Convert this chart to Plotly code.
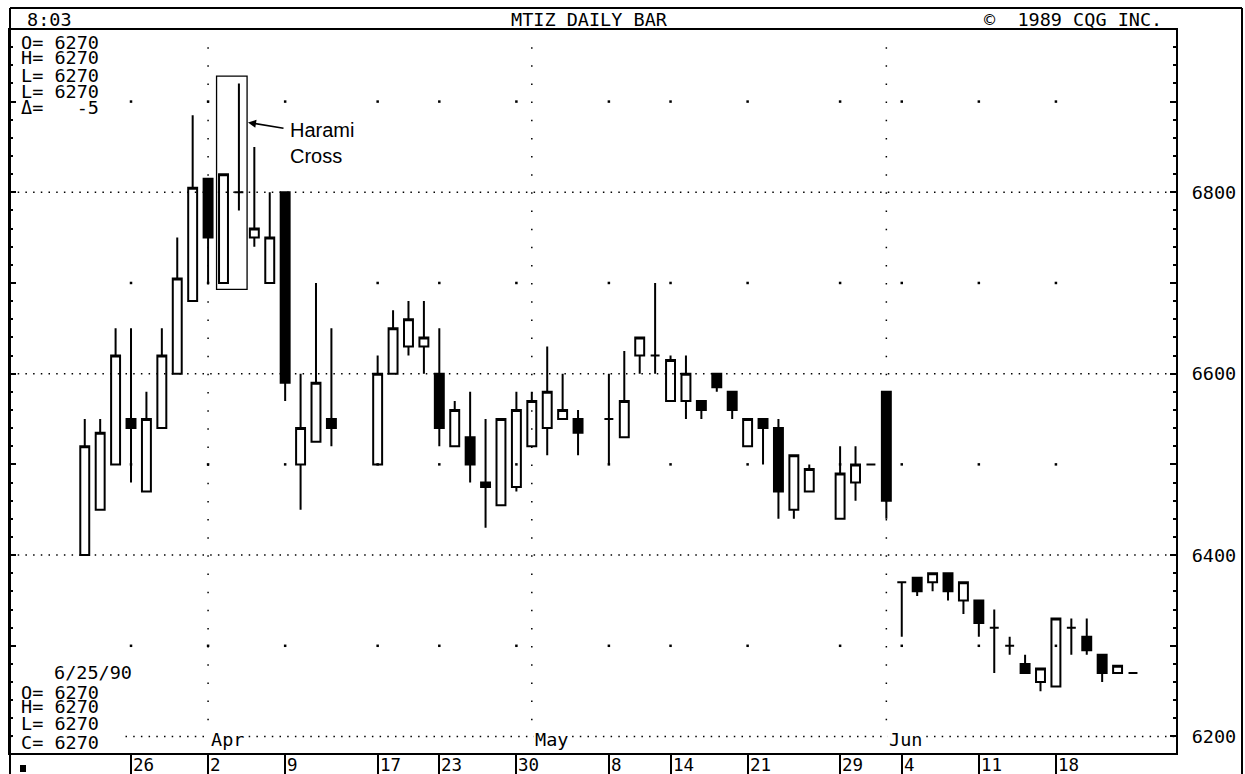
import numpy as np
import plotly.graph_objects as go

# daily bars, MTIZ, 21 Mar - 25 Jun 1990 (holidays left as gaps)
dates = [
    "1990-03-21", "1990-03-22", "1990-03-23", "1990-03-26", "1990-03-27", "1990-03-28", "1990-03-29",
    "1990-03-30", "1990-04-02", "1990-04-03", "1990-04-04", "1990-04-05", "1990-04-06", "1990-04-09",
    "1990-04-10", "1990-04-11", "1990-04-12", "1990-04-17", "1990-04-18", "1990-04-19", "1990-04-20",
    "1990-04-23", "1990-04-24", "1990-04-25", "1990-04-26", "1990-04-27", "1990-04-30", "1990-05-01",
    "1990-05-02", "1990-05-03", "1990-05-04", "1990-05-08", "1990-05-09", "1990-05-10", "1990-05-11",
    "1990-05-14", "1990-05-15", "1990-05-16", "1990-05-17", "1990-05-18", "1990-05-21", "1990-05-22",
    "1990-05-23", "1990-05-24", "1990-05-25", "1990-05-29", "1990-05-30", "1990-05-31", "1990-06-01",
    "1990-06-04", "1990-06-05", "1990-06-06", "1990-06-07", "1990-06-08", "1990-06-11", "1990-06-12",
    "1990-06-13", "1990-06-14", "1990-06-15", "1990-06-18", "1990-06-19", "1990-06-20", "1990-06-21",
    "1990-06-22", "1990-06-25",
]
opens = [
    6400, 6450, 6500, 6550, 6470, 6540, 6600, 6680, 6815, 6700, 6800, 6750, 6700, 6800,
    6500, 6525, 6550, 6500, 6600, 6630, 6630, 6600, 6520, 6530, 6480, 6455, 6475, 6520,
    6540, 6550, 6550, 6550, 6530, 6620, 6620, 6570, 6570, 6570, 6600, 6580, 6520, 6550,
    6540, 6450, 6470, 6440, 6480, 6500, 6580, 6370, 6375, 6370, 6380, 6350, 6350, 6320,
    6300, 6280, 6260, 6255, 6320, 6310, 6290, 6270, 6270,
]
highs = [
    6550, 6550, 6650, 6650, 6580, 6650, 6750, 6885, 6815, 6820, 6920, 6850, 6800, 6800,
    6600, 6700, 6650, 6620, 6670, 6680, 6680, 6650, 6570, 6580, 6550, 6550, 6580, 6580,
    6630, 6600, 6560, 6600, 6625, 6640, 6700, 6620, 6620, 6570, 6600, 6580, 6550, 6550,
    6550, 6510, 6500, 6520, 6520, 6500, 6580, 6370, 6375, 6380, 6380, 6370, 6350, 6340,
    6310, 6290, 6275, 6330, 6330, 6330, 6290, 6278, 6270,
]
lows = [
    6400, 6450, 6500, 6480, 6470, 6540, 6600, 6680, 6700, 6700, 6780, 6740, 6700, 6570,
    6450, 6525, 6520, 6500, 6600, 6620, 6600, 6520, 6520, 6480, 6430, 6455, 6470, 6520,
    6510, 6550, 6510, 6500, 6530, 6600, 6600, 6570, 6550, 6550, 6580, 6550, 6520, 6500,
    6440, 6440, 6470, 6440, 6460, 6500, 6440, 6310, 6355, 6360, 6350, 6335, 6310, 6270,
    6290, 6270, 6250, 6255, 6290, 6290, 6260, 6270, 6270,
]
closes = [
    6520, 6535, 6620, 6540, 6550, 6620, 6705, 6805, 6750, 6820, 6800, 6760, 6750, 6590,
    6540, 6590, 6540, 6600, 6650, 6660, 6640, 6540, 6560, 6500, 6475, 6550, 6560, 6570,
    6580, 6560, 6535, 6550, 6570, 6640, 6620, 6615, 6600, 6560, 6585, 6560, 6550, 6540,
    6470, 6510, 6495, 6490, 6500, 6500, 6460, 6370, 6360, 6380, 6360, 6370, 6325, 6320,
    6300, 6270, 6275, 6330, 6320, 6295, 6270, 6278, 6270,
]

week_starts = ["1990-03-26", "1990-04-02", "1990-04-09", "1990-04-17", "1990-04-23", "1990-04-30", "1990-05-08",
               "1990-05-14", "1990-05-21", "1990-05-29", "1990-06-04", "1990-06-11", "1990-06-18"]
week_labels = ["26", "2", "9", "17", "23", "30", "8", "14", "21", "29", "4", "11", "18"]
month_starts = ["1990-04-02", "1990-05-01", "1990-06-01"]
month_labels = ["Apr", "May", "Jun"]
price_labels = [6200, 6400, 6600, 6800]
half_levels = [6300, 6500, 6700, 6900]

MONO = "DejaVu Sans Mono"
START = np.datetime64("1990-03-21")


def slot(d):
    # weekday slot, so exchange holidays show as empty days
    return int(np.busday_count(START, np.datetime64(d)))


def px(x):
    return (x - 10) / 1166


def py(y):
    return (753 - y) / 723


xs = [slot(d) for d in dates]

fig = go.Figure()
fig.add_trace(
    go.Candlestick(
        x=xs, open=opens, high=highs, low=lows, close=closes,
        increasing=dict(line=dict(color="black", width=2), fillcolor="white"),
        decreasing=dict(line=dict(color="black", width=2), fillcolor="black"),
        whiskerwidth=0, showlegend=False,
    )
)
fig.add_trace(
    go.Scatter(
        x=[slot(w) for w in week_starts for _ in half_levels],
        y=[lv for _ in week_starts for lv in half_levels],
        mode="markers", marker=dict(symbol="square", size=2.5, color="black", line_width=0),
        showlegend=False, hoverinfo="skip",
    )
)

shapes = []
for p in price_labels:
    shapes.append(dict(type="line", xref="paper", yref="y", x0=0, x1=1, y0=p, y1=p,
                       line=dict(color="black", width=1.5, dash="1.5px,6.2px")))
for m in month_starts:
    shapes.append(dict(type="line", xref="x", yref="y", x0=slot(m), x1=slot(m), y0=6960, y1=6200,
                       line=dict(color="black", width=1.5, dash="1.5px,16.65px")))
# blank patch under the bottom-left quote block
shapes.append(dict(type="rect", xref="paper", yref="paper", x0=px(13), x1=px(121), y0=py(752), y1=py(660),
                   fillcolor="white", line_width=0, layer="above"))
# outer frame and title strip
frame = dict(color="black", width=2)
shapes.append(dict(type="line", xref="paper", yref="paper", x0=0, x1=px(1242), y0=py(8), y1=py(8), line=frame))
shapes.append(dict(type="line", xref="paper", yref="paper", x0=0, x1=0, y0=py(774), y1=py(8), line=frame))
shapes.append(dict(type="line", xref="paper", yref="paper", x0=px(1242), x1=px(1242), y0=py(774), y1=py(8), line=frame))
shapes.append(dict(type="rect", xref="paper", yref="paper", x0=px(20), x1=px(26), y0=py(772), y1=py(765),
                   fillcolor="black", line_width=0))
# Harami cross box
shapes.append(dict(type="rect", xref="x", yref="y", x0=8.55, x1=10.53, y0=6693, y1=6928,
                   line=dict(color="black", width=1.3)))

ann = []


def text(s, x, y, anchor="left", size=18.5, family=MONO, bg=None):
    a = dict(text=s, xref="paper", yref="paper", x=px(x), y=py(y), xanchor=anchor, yanchor="middle",
             showarrow=False, font=dict(family=family, size=size, color="black"))
    if bg:
        a["bgcolor"] = bg
    ann.append(a)


text("8:03", 25, 19)
text("MTIZ DAILY BAR", 589, 19, anchor="center")
text("©\u00a0\u00a01989\u00a0CQG\u00a0INC.", 1164, 19, anchor="right")

nb = "\u00a0"
for s, y in [("O=" + nb + "6270", 42), ("H=" + nb + "6270", 58), ("L=" + nb + "6270", 75),
             ("L=" + nb + "6270", 91), ("Δ=" + nb * 3 + "-5", 108)]:
    text(s, 19, y)
text("6/25/90", 52, 672)
for s, y in [("O=" + nb + "6270", 692), ("H=" + nb + "6270", 706), ("L=" + nb + "6270", 723.5),
             ("C=" + nb + "6270", 742)]:
    text(s, 19, y)

for w, lab in zip(week_starts, week_labels):
    ann.append(dict(text=lab, xref="x", yref="paper", x=slot(w), y=0, xanchor="left", yanchor="top",
                    xshift=0, yshift=0, showarrow=False, font=dict(family=MONO, size=17.5, color="black")))
for m, lab in zip(month_starts, month_labels):
    ann.append(dict(text=lab, xref="x", yref="paper", x=slot(m), y=0, xanchor="left", yanchor="bottom",
                    xshift=1, yshift=1, showarrow=False, bgcolor="white",
                    font=dict(family=MONO, size=18.5, color="black")))

# Harami Cross callout
ann.append(dict(text="", x=10.59, y=6877, xref="x", yref="y", showarrow=True, ax=37, ay=6,
                arrowhead=2, arrowsize=1, arrowwidth=1.6, arrowcolor="black"))
text("Harami", 288, 130.5, size=20, family="Liberation Sans")
text("Cross", 288, 155.5, size=20, family="Liberation Sans")

fig.update_layout(
    width=1245,
    height=774,
    margin=dict(l=10, r=69, t=30, b=21, pad=0, autoexpand=False),
    template="none",
    paper_bgcolor="white",
    plot_bgcolor="white",
    showlegend=False,
    boxgap=0.42,
    boxgroupgap=0,
    shapes=shapes,
    annotations=ann,
    xaxis=dict(
        range=[-4.85, 70.79],
        tickvals=[slot(w) for w in week_starts],
        ticks="outside", ticklen=21, tickwidth=1.5, tickcolor="black",
        showticklabels=False,
        showline=True, linewidth=2, linecolor="black", mirror=True,
        showgrid=False, zeroline=False,
        rangeslider=dict(visible=False),
        automargin=False,
    ),
    yaxis=dict(
        range=[6181.8, 6978.9],
        side="right",
        tickvals=list(range(6200, 7000, 100)),
        ticktext=[str(v) if v in price_labels else "" for v in range(6200, 7000, 100)],
        ticks="inside", ticklen=6, tickwidth=1.5, tickcolor="black",
        minor=dict(tick0=6200, dtick=20, ticks="inside", ticklen=3, tickwidth=1.5, tickcolor="black", showgrid=False),
        tickfont=dict(family=MONO, size=18.5, color="black"),
        ticklabelstandoff=10,
        showline=True, linewidth=2, linecolor="black", mirror="ticks",
        showgrid=False, zeroline=False,
        automargin=False,
    ),
)

# the page body has a default 8px margin; drop it so the figure sits at the window origin
fig.write_html(
    "out.html",
    config={"displayModeBar": False},
    post_script="document.body.style.margin='0px';document.body.style.overflow='hidden';",
)
